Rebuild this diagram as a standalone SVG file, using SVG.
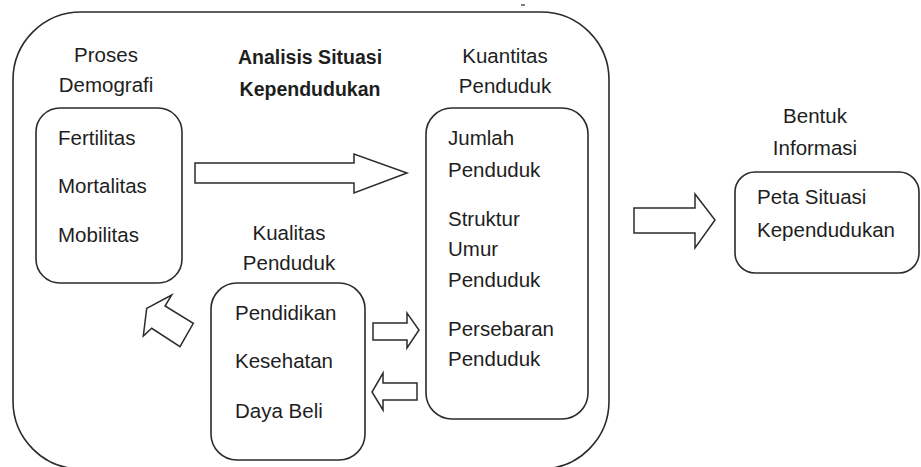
<svg xmlns="http://www.w3.org/2000/svg" width="921" height="467" viewBox="0 0 921 467">
<style>
.box{fill:none;stroke:#2b2b2b;stroke-width:1.6}
.arr{fill:#fff;stroke:#2b2b2b;stroke-width:1.5;stroke-linejoin:miter}
text{font-family:"Liberation Sans",Arial,sans-serif;font-size:20.5px;fill:#1e1e1e}
.c{text-anchor:middle}
.b{font-weight:bold;font-size:19.5px}
</style>
<rect x="0" y="0" width="921" height="467" fill="#fff"/>
<g id="outer">
<rect class="box" x="13" y="12" width="596" height="457" rx="68" ry="68"/>
<line x1="521" y1="5" x2="525" y2="5" stroke="#555" stroke-width="1.5"/>
<text class="c b" x="310" y="64">Analisis Situasi</text>
<text class="c b" x="310" y="96">Kependudukan</text>
</g>
<g id="proses-demografi">
<text class="c" x="106" y="62">Proses</text>
<text class="c" x="106" y="92">Demografi</text>
<rect class="box" x="36" y="108" width="146" height="175" rx="24" ry="24"/>
<text x="58" y="145">Fertilitas</text>
<text x="58" y="193">Mortalitas</text>
<text x="58" y="242">Mobilitas</text>
</g>
<g id="kuantitas-penduduk">
<text class="c" x="505" y="63">Kuantitas</text>
<text class="c" x="505" y="93">Penduduk</text>
<rect class="box" x="426" y="108" width="162" height="311" rx="26" ry="26"/>
<text x="448" y="145">Jumlah</text>
<text x="448" y="177">Penduduk</text>
<text x="448" y="226">Struktur</text>
<text x="448" y="256">Umur</text>
<text x="448" y="287">Penduduk</text>
<text x="448" y="336">Persebaran</text>
<text x="448" y="366">Penduduk</text>
</g>
<g id="kualitas-penduduk">
<text class="c" x="289" y="240">Kualitas</text>
<text class="c" x="289" y="270">Penduduk</text>
<rect class="box" x="211" y="283" width="154" height="177" rx="26" ry="26"/>
<text x="235" y="320">Pendidikan</text>
<text x="235" y="368">Kesehatan</text>
<text x="235" y="418">Daya Beli</text>
</g>
<g id="bentuk-informasi">
<text class="c" x="815" y="123">Bentuk</text>
<text class="c" x="815" y="155">Informasi</text>
<rect class="box" x="735" y="172" width="184" height="101" rx="20" ry="20"/>
<text x="757" y="204">Peta Situasi</text>
<text x="757" y="237">Kependudukan</text>
</g>
<g id="connectors">
<polygon class="arr" points="195,163 354,163 354,154 407,173 354,193 354,183 195,183"/>
<polygon class="arr" points="634,208 695,208 695,194 715,220 695,248 695,233 634,233"/>
<polygon class="arr" points="373,323 407,323 407,313 419,330 407,348 407,340 373,340"/>
<polygon class="arr" points="417,383 383,383 383,373 372,392 383,410 383,400 417,400"/>
<polygon class="arr" points="146.7,308.3 171.7,295 165,306 193.3,323.3 180,346.7 151.7,328.3 143.3,336"/>
</g>
</svg>
